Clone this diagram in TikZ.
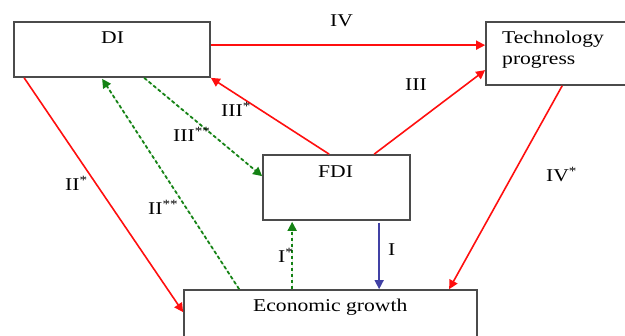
\documentclass[tikz,border=0pt]{standalone}
\usepackage{fontspec}
\setmainfont{Liberation Serif}[FakeStretch=1.2]
\usetikzlibrary{arrows.meta,calc}
\definecolor{boxgray}{RGB}{75,75,75}
\definecolor{arrred}{RGB}{255,15,15}
\definecolor{arrgreen}{RGB}{20,130,20}
\definecolor{arrblue}{RGB}{65,65,165}
\begin{document}
\begin{tikzpicture}[x=1pt,y=-1pt,
  box/.style={draw=boxgray,line width=1.7pt,fill=white,inner sep=0pt},
  txt/.style={font=\fontsize{18}{21}\selectfont,inner sep=0pt,anchor=base west},
  lbl/.style={font=\fontsize{18}{21}\selectfont,inner sep=0pt,anchor=base west},
  tipstyle/.style={-{Triangle[length=9pt,width=9pt]}},
  redarr/.style={tipstyle,draw=arrred,fill=arrred,line width=1.6pt},
  greenarr/.style={tipstyle,draw=arrgreen,fill=arrgreen,line width=1.8pt,dash pattern=on 3.5pt off 2.5pt},
  bluearr/.style={tipstyle,draw=arrblue,fill=arrblue,line width=1.4pt}]
\useasboundingbox (0,0) rectangle (625,336);
% boxes
\node[box,minimum width=196pt,minimum height=55pt] (di) at (112,49.5) {};
\node[box,minimum width=146pt,minimum height=63pt] (tech) at (559,53.5) {};
\node[box,minimum width=147pt,minimum height=65pt] (fdi) at (336.5,187.5) {};
\node[box,minimum width=293pt,minimum height=60pt] (econ) at (330.5,320) {};
% box texts
\node[txt] (ditext) at (101,44) {DI};
\node[txt] (techtext1) at (502,44) {Technology};
\node[txt] (techtext2) at (502,65) {progress};
\node[txt] (fditext) at (318,178) {FDI};
\node[txt] (econtext) at (253,312) {Economic growth};
% connectors
\draw[redarr] ($(di.north east)+(0,24)$) -- ($(tech.north west)+(0,24)$);
\draw[redarr] ($(fdi.north west)+(112,0)$) -- ($(tech.north west)+(0,49)$);
\draw[redarr] ($(fdi.north west)+(67,0)$) -- (di.south east);
\draw[greenarr] ($(di.south west)+(131,0)$) -- ($(fdi.north west)+(0,22)$);
\draw[redarr] ($(di.south west)+(11,0)$) -- ($(econ.north west)+(0,23)$);
\draw[greenarr] ($(econ.north west)+(56,0)$) -- ($(di.south west)+(89,1)$);
\draw[greenarr] ($(econ.north west)+(109,0)$) -- ($(fdi.south west)+(30,1)$);
\draw[bluearr] ($(fdi.south west)+(117,2)$) -- ($(econ.north west)+(196,0)$);
\draw[redarr] ($(tech.south west)+(77,0)$) -- ($(econ.north west)+(266,0)$);
% labels
\node[lbl] (lIV) at (330,27) {IV};
\node[lbl] (lIII) at (405,91) {III};
\node[lbl] (lIIIs) at (221,117) {III\textsuperscript{*}};
\node[lbl] (lIIIss) at (173,142) {III\textsuperscript{**}};
\node[lbl] (lIIs) at (65,191) {II\textsuperscript{*}};
\node[lbl] (lIIss) at (148,215) {II\textsuperscript{**}};
\node[lbl] (lIs) at (278,263) {I\textsuperscript{*}};
\node[lbl] (lI) at (388,256) {I};
\node[lbl] (lIVs) at (546,182) {IV\textsuperscript{*}};
\end{tikzpicture}
\end{document}
